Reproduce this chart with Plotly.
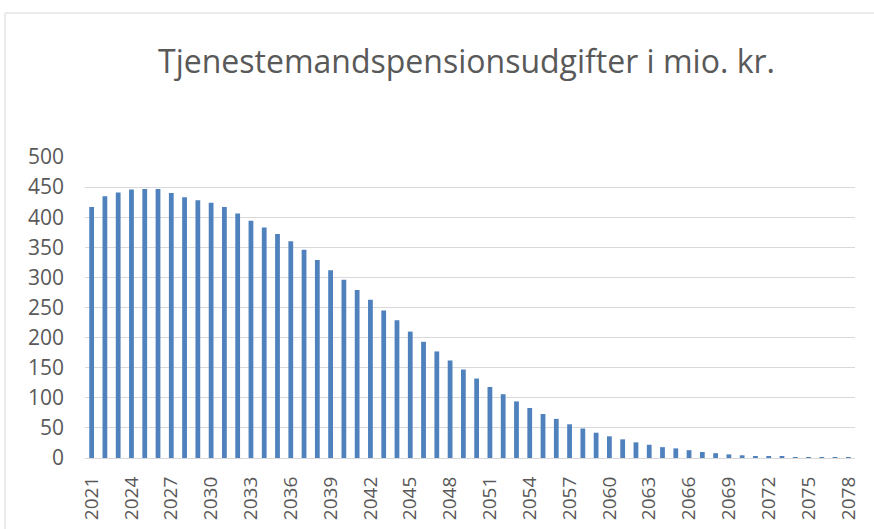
import plotly.graph_objects as go

years = [str(y) for y in range(2021, 2079)]
values = [417, 435, 441, 446, 447, 447, 440, 433, 428, 424,
          417, 406, 394, 383, 372, 360, 346, 329, 312, 296,
          279, 263, 245, 229, 210, 193, 177, 162, 147, 132,
          118, 106, 94, 83, 73, 65, 56, 49, 42, 36,
          31, 26, 22, 18, 16, 13, 10, 8, 6, 4.5,
          3.3, 2.2, 1.7, 1.1, 0.6, 0.3, 0.15, 0.05]
tick_labels = years[::3]
y_ticks = list(range(0, 501, 50))

fig = go.Figure(go.Bar(x=years, y=values, marker=dict(color="#4f81bd", line=dict(width=0))))

W, H = 874, 529
L, R, T, B = 85, 19, 157, 71
pw, ph = W - L - R, H - T - B

fig.update_layout(
    width=W, height=H,
    margin=dict(l=L, r=R, t=T, b=B, autoexpand=False),
    paper_bgcolor="white", plot_bgcolor="white",
    bargap=0.64,
    showlegend=False,
    font=dict(family="Open Sans", color="#595959"),
    title=dict(text="Tjenestemandspensionsudgifter i mio. kr.", x=466.5 / W, xanchor="center",
               y=1 - 62 / H, yanchor="middle",
               font=dict(size=32, color="#595959", family="Open Sans")),
    xaxis=dict(type="category", tickmode="array", tickvals=tick_labels, ticktext=tick_labels,
               tickangle=-90, tickfont=dict(size=19, color="#595959"), automargin=False,
               showgrid=False, showline=True, linecolor="#d9d9d9", linewidth=1.3,
               ticks="", range=[-0.5, len(years) - 0.5], ticklabelstandoff=10),
    yaxis=dict(range=[0, 500], tickvals=y_ticks, tickfont=dict(size=21, color="#595959"),
               automargin=False,
               showgrid=True, gridcolor="#d9d9d9", gridwidth=1.3, zeroline=False,
               ticks="", ticklabelstandoff=20),
    shapes=[dict(type="rect", xref="paper", yref="paper",
                 x0=(5 - L) / pw, x1=(W + 20 - L) / pw,
                 y0=(-(B + 20)) / ph, y1=(ph + T - 13) / ph,
                 line=dict(color="#d9d9d9", width=1), fillcolor="rgba(0,0,0,0)", layer="below")],
)

fig.write_html(
    "out.html",
    config={"displayModeBar": False},
    post_script="document.body.style.margin='0';document.body.style.overflow='hidden';",
)
